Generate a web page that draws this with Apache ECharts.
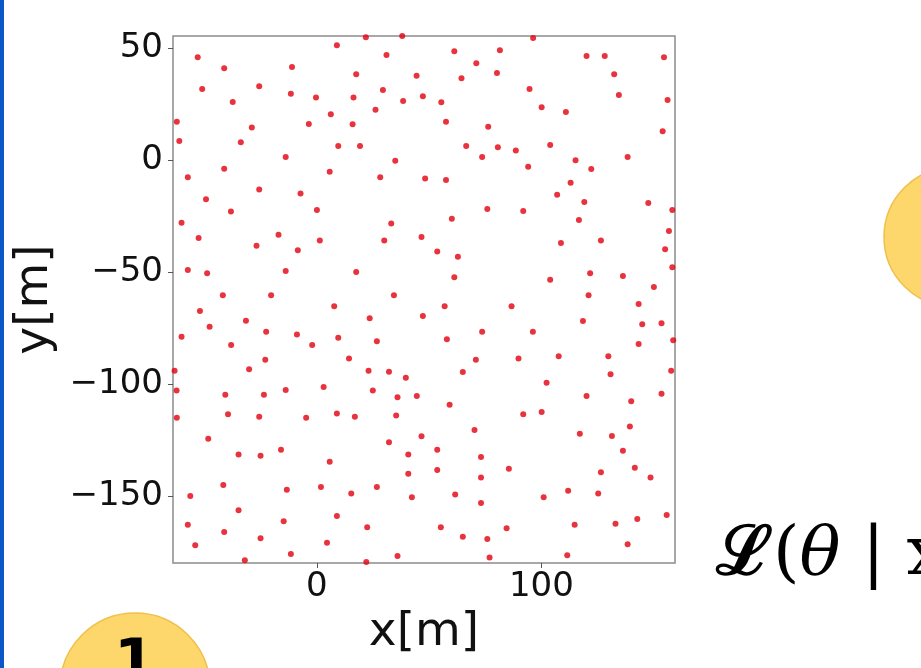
<!DOCTYPE html>
<html>
<head>
<meta charset="utf-8">
<script src="https://cdn.jsdelivr.net/npm/echarts@6/dist/echarts.min.js"></script>
<style>
  html, body { margin: 0; padding: 0; background: #fff; }
  #chart { width: 921px; height: 668px; }
</style>
</head>
<body>
<div id="chart"></div>
<script>
// Posiciones de los puntos (m)
const xs = [
  -53.1, -41.3, -11.1, -51.1, -25.7, -11.6, -0.4, -37.5, -62.4, -29.0, -3.6, -61.3, -33.9, -13.9, -57.5, -41.3, -25.7, -7.3, -49.4, 0.0, -38.3,
  21.8, 38.0, 8.9, 31.0, 61.2, 81.5, 71.0, 17.5, 44.4, 64.4, 80.2, 29.4, 16.3, 38.4, 47.2, 55.4, 6.2, 26.1, 15.9, 57.5, 76.3, 9.5, 19.2, 66.5, 80.6, 73.6, 34.9, 5.7, 28.2, 48.2, 57.5, 75.9,
  96.3, 120.1, 128.2, 154.6, 132.4, 94.7, 134.5, 156.2, 100.1, 110.9, 154.0, 103.9, 88.6, 138.4, 115.2, 94.1, 122.2, 113.0, 107.0, 119.1, 147.6, 158.3, 91.9,
  -60.3, -52.7, -26.9, -17.1, -8.5, 1.3, -57.5, -48.9, -13.9, -41.9, -20.4, -52.1, -31.6, -47.8, -22.6, -60.3, -8.9, -38.2, -2.1, -23.0, -30.2, -63.4, -62.5, -13.9,
  33.1, 60.1, 30.0, 46.6, 53.6, 62.8, 17.5, 61.2, 34.3, 7.7, 56.9, 23.5, 47.2, 9.5, 26.7, 57.9, 73.6, 14.3, 70.8, 23.0, 32.1, 65.0, 39.6, 3.0, 24.9,
  116.7, 156.8, 108.7, 126.5, 155.1, 158.3, 121.7, 136.3, 103.9, 150.1, 121.0, 86.7, 143.3, 118.5, 144.9, 153.5, 96.2, 158.7, 143.3, 89.8, 107.7, 129.8, 130.8, 157.8, 102.3,
  -40.8, -23.6, -62.4, -39.6, -25.7, -4.8, -48.4, -34.9, -25.1, -16.0, -41.7, -56.4, -13.4, 1.8, -34.9, -14.8, -57.5, -41.3, -25.1, -54.2, -11.6, -32.1,
  35.9, 44.5, 59.1, 8.9, 16.9, 35.3, 70.2, 32.1, 46.6, 40.7, 53.6, 73.1, 5.7, 40.7, 53.6, 73.1, 15.3, 26.7, 42.3, 61.6, 73.1, 8.9, 22.4, 55.2, 65.0, 75.9, 4.5, 35.9, 22.0, 76.9,
  120.1, 140.0, 153.5, 91.9, 100.1, 117.1, 131.4, 139.4, 136.3, 85.5, 126.5, 141.6, 148.6, 101.0, 111.9, 125.3, 84.5, 114.8, 133.0, 142.7, 155.8, 138.4, 111.5
];
const ys = [
  46.1, 41.2, 41.8, 31.9, 33.2, 29.8, 28.1, 26.1, 17.3, 14.7, 16.3, 8.7, 8.1, 1.6, -7.5, -3.7, -13.0, -14.7, -17.3, -22.1, -22.8,
  55.0, 55.6, 51.5, 47.1, 48.8, 49.2, 43.4, 38.5, 37.9, 36.7, 39.1, 31.5, 28.1, 26.6, 28.7, 26.0, 20.6, 22.7, 16.2, 17.3, 15.1, 6.5, 6.5, 6.5, 5.9, 1.6, -0.1, -5.0, -7.5, -8.1, -8.7, -21.7,
  54.7, 46.7, 46.7, 46.1, 38.5, 31.9, 29.3, 27.0, 23.8, 21.7, 13.0, 6.9, 4.4, 1.6, 0.1, -2.8, -3.8, -9.9, -15.3, -18.5, -19.0, -22.1, -22.6,
  -27.8, -34.6, -38.1, -33.2, -40.1, -35.8, -48.9, -50.4, -49.4, -60.2, -60.2, -67.2, -71.6, -74.3, -76.5, -78.7, -77.7, -82.4, -82.4, -89.0, -93.3, -93.9, -102.8, -102.5,
  -28.2, -26.0, -35.8, -34.2, -40.7, -43.0, -49.8, -52.2, -60.2, -65.1, -65.1, -70.5, -69.5, -79.2, -80.8, -79.8, -76.5, -88.4, -89.0, -93.9, -94.4, -94.5, -97.0, -101.2, -102.8,
  -26.6, -31.5, -36.9, -35.8, -39.7, -47.7, -50.4, -51.6, -53.3, -56.5, -60.2, -65.1, -64.1, -71.7, -73.2, -72.7, -76.5, -80.3, -82.0, -88.4, -87.4, -87.4, -95.5, -93.9, -99.3,
  -104.6, -104.6, -114.9, -113.4, -114.5, -114.9, -124.3, -131.3, -131.9, -129.2, -145.0, -149.9, -147.1, -145.9, -156.2, -161.1, -162.7, -166.0, -168.7, -171.9, -175.8, -178.6,
  -105.8, -105.2, -109.1, -113.0, -114.5, -113.9, -120.4, -125.9, -123.2, -131.3, -129.2, -132.5, -134.6, -139.9, -138.3, -141.6, -148.7, -145.9, -150.4, -149.2, -153.0, -158.8, -163.8, -163.8, -168.1, -169.1, -170.8, -176.7, -179.4, -177.3,
  -105.2, -107.5, -104.2, -113.4, -112.4, -122.1, -123.1, -118.8, -129.7, -137.7, -139.3, -137.3, -141.6, -150.4, -147.5, -148.7, -164.3, -162.7, -162.3, -160.1, -158.4, -171.4, -176.3
];
const xTicks = [0, 100];
const yTicks = [-150, -100, -50, 0, 50];

const points = xs.map((x, i) => [x, ys[i]]);
const minus = v => String(v).replace('-', '\u2212');

const chart = echarts.init(document.getElementById('chart'));

const option = {
  backgroundColor: '#ffffff',
  animation: false,
  grid: {
    left: 173,
    top: 36,
    width: 502,
    height: 527,
    show: true,
    backgroundColor: '#ffffff',
    borderColor: '#8c8c8c',
    borderWidth: 1.5
  },
  xAxis: {
    type: 'value',
    min: -64.1,
    max: 159.5,
    name: 'x[m]',
    nameLocation: 'middle',
    nameGap: 26,
    nameTextStyle: { color: '#111', fontSize: 47, fontFamily: 'DejaVu Sans' },
    axisLine: { show: false, onZero: false },
    splitLine: { show: false },
    axisTick: { show: true, customValues: xTicks, length: 5, lineStyle: { color: '#555' } },
    axisLabel: {
      customValues: xTicks,
      formatter: minus,
      color: '#111',
      fontSize: 34,
      fontFamily: 'DejaVu Sans',
      margin: 7
    }
  },
  yAxis: {
    type: 'value',
    min: -179.8,
    max: 55.6,
    name: 'y[m]',
    nameLocation: 'middle',
    nameGap: 103,
    nameTextStyle: { color: '#111', fontSize: 47, fontFamily: 'DejaVu Sans' },
    axisLine: { show: false, onZero: false },
    splitLine: { show: false },
    axisTick: { show: true, customValues: yTicks, length: 5, lineStyle: { color: '#555' } },
    axisLabel: {
      customValues: yTicks,
      formatter: minus,
      color: '#111',
      fontSize: 34,
      fontFamily: 'DejaVu Sans',
      margin: 10
    }
  },
  series: [{
    type: 'scatter',
    data: points,
    symbolSize: 6,
    itemStyle: { color: '#e2000f' },
    clip: true
  }],
  graphic: [
    { type: 'rect', left: 0, top: 0, shape: { width: 4, height: 668 }, style: { fill: '#0c56c8' } },
    { type: 'circle', shape: { cx: 954, cy: 237, r: 70 }, style: { fill: '#fdd76c', stroke: '#efc04a', lineWidth: 1.5 } },
    { type: 'circle', shape: { cx: 135, cy: 688, r: 75 }, style: { fill: '#fdd76c', stroke: '#efc04a', lineWidth: 1.5 } },
    { type: 'text', x: 114, y: 636, style: { text: '1', fill: '#000', font: 'bold 60px "DejaVu Sans"' } },
    {
      type: 'text', x: 716, y: 522,
      style: {
        text: '{l|ℒ}{n|(}{t|θ}{n| | x}',
        fill: '#000',
        rich: {
          l: { font: 'bold 68px "DejaVu Serif"', fill: '#000' },
          n: { font: '68px "DejaVu Serif"', fill: '#000' },
          t: { font: 'italic 68px "DejaVu Serif"', fill: '#000' }
        }
      }
    }
  ]
};

chart.setOption(option);
</script>
</body>
</html>
